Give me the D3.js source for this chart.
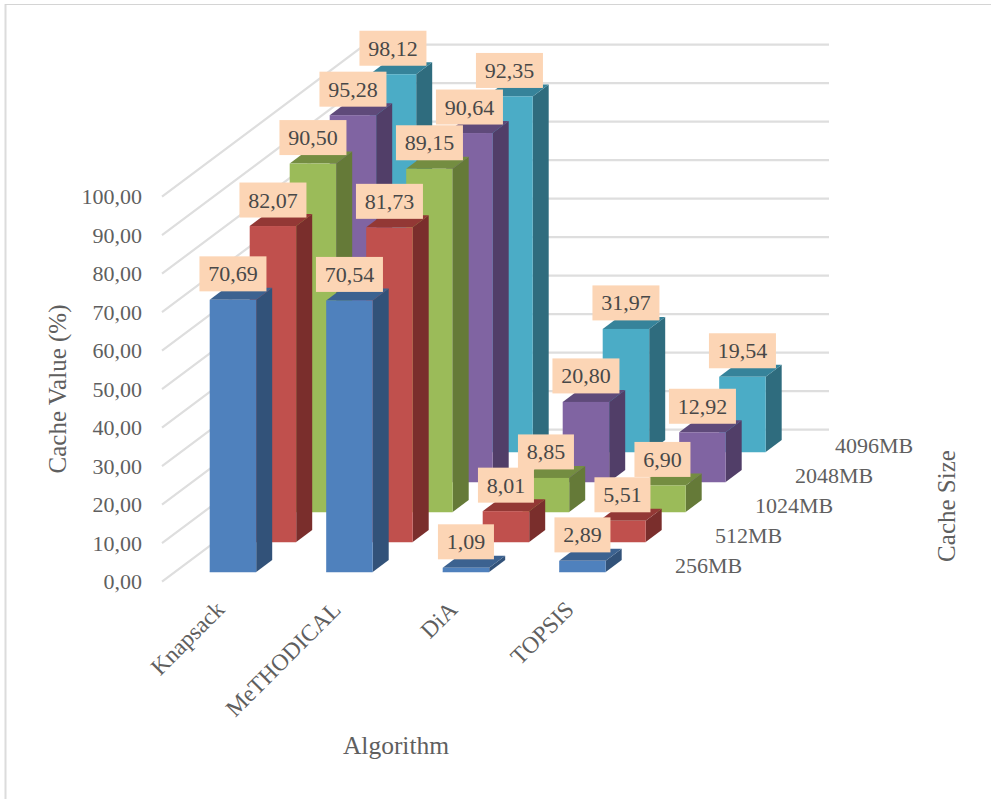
<!DOCTYPE html>
<html>
<head>
<meta charset="utf-8">
<script src="https://cdnjs.cloudflare.com/ajax/libs/d3/7.8.5/d3.min.js"></script>
<style>
  html, body { margin: 0; padding: 0; background: #fff; }
  svg { display: block; }
  text { font-family: "Liberation Serif", serif; }
</style>
</head>
<body>
<svg id="chart" width="991" height="799"></svg>
<script>
// Cache hit values per algorithm and cache size
const algorithms = ["Knapsack", "MeTHODICAL", "DiA", "TOPSIS"];
const cacheSizes = ["256MB", "512MB", "1024MB", "2048MB", "4096MB"];
const values256 = [70.69, 70.54, 1.09, 2.89];
const values512 = [82.07, 81.73, 8.01, 5.51];
const values1024 = [90.50, 89.15, 8.85, 6.90];
const values2048 = [95.28, 90.64, 20.80, 12.92];
const values4096 = [98.12, 92.35, 31.97, 19.54];
const seriesValues = [values256, values512, values1024, values2048, values4096];
const valueTicks = [0, 10, 20, 30, 40, 50, 60, 70, 80, 90, 100];

const frontColors = ["#4F81BD", "#C0504D", "#9BBB59", "#8064A2", "#4BACC6"];
const topColors = ["#3C6290", "#933835", "#748D41", "#5F4A7A", "#36839A"];
const sideColors = ["#325279", "#7A2E2C", "#657A38", "#513E68", "#2F6C7E"];

const svg = d3.select("#chart");
const commaFormat = v => v.toFixed(2).replace(".", ",");

// Oblique projection: column left edge by algorithm, depth shift by cache size
const xCategory = d3.scalePoint().domain(algorithms).range([209.7, 559.2]);
const depthX = d3.scalePoint().domain(cacheSizes).range([0, 160]);
const depthY = d3.scalePoint().domain(cacheSizes).range([0, -120]);
const barHeight = d3.scaleLinear().domain([0, 100]).range([0, 385]);
const yAxisScale = d3.scaleLinear().domain([0, 100]).range([581.7, 196.7]);

const barWidth = 46.5, sideX = 16, sideY = -12, floorY = 572;
const wallX0 = 162, wallX1 = 365, wallShift = -152, wallEnd = 829;

// Outer chart frame
svg.append("line").attr("x1", 5.5).attr("y1", 4).attr("x2", 5.5).attr("y2", 799)
  .attr("stroke", "#dcdcdc").attr("stroke-width", 2);
svg.append("line").attr("x1", 5).attr("y1", 4.5).attr("x2", 991).attr("y2", 4.5)
  .attr("stroke", "#d4d4d4").attr("stroke-width", 1);

// Gridlines run along the side wall, then across the back wall
svg.append("g").selectAll("path").data(valueTicks).join("path")
  .attr("fill", "none").attr("stroke", "#dedede").attr("stroke-width", 2.2)
  .attr("d", v => {
    const y = yAxisScale(v);
    return d3.line()([[wallX0, y], [wallX1, y + wallShift], [wallEnd, y + wallShift]]);
  });

// Columns, farthest cache size first so nearer ones cover them
const barGroup = svg.append("g");
d3.range(cacheSizes.length - 1, -1, -1).forEach(s => {
  const size = cacheSizes[s];
  algorithms.forEach((alg, c) => {
    const v = seriesValues[s][c];
    const x0 = xCategory(alg) + depthX(size);
    const x1 = x0 + barWidth;
    const yb = floorY + depthY(size);
    const yt = yb - barHeight(v);
    const g = barGroup.append("g");
    g.append("path").attr("fill", sideColors[s]).attr("d", d3.line()([
      [x1, yt], [x1 + sideX, yt + sideY], [x1 + sideX, yb + sideY], [x1, yb]
    ]) + "Z");
    g.append("path").attr("fill", topColors[s]).attr("d", d3.line()([
      [x0, yt], [x0 + sideX, yt + sideY], [x1 + sideX, yt + sideY], [x1, yt]
    ]) + "Z");
    g.append("rect").attr("x", x0).attr("y", yt).attr("width", barWidth).attr("height", yb - yt)
      .attr("fill", frontColors[s]);
    g.append("line").attr("x1", x0).attr("x2", x1).attr("y1", yb).attr("y2", yb)
      .attr("stroke", frontColors[s]).attr("stroke-opacity", 0.5).attr("stroke-width", 1);
  });
});

// Value callouts above each column
const labelGroup = svg.append("g");
d3.range(cacheSizes.length - 1, -1, -1).forEach(s => {
  const size = cacheSizes[s];
  algorithms.forEach((alg, c) => {
    const v = seriesValues[s][c];
    const cx = xCategory(alg) + depthX(size) + barWidth / 2;
    const cy = floorY + depthY(size) - barHeight(v) - 26;
    const txt = commaFormat(v);
    const w = txt.length > 4 ? 67 : 56;
    labelGroup.append("rect").attr("x", cx - w / 2).attr("y", cy - 17.5)
      .attr("width", w).attr("height", 35).attr("fill", "#FCD5B5");
    labelGroup.append("text").attr("x", cx).attr("y", cy + 7.5)
      .attr("text-anchor", "middle").attr("font-size", 22).attr("fill", "#484848").text(txt);
  });
});

// Value axis
const yAxis = d3.axisLeft(yAxisScale).tickValues(valueTicks).tickFormat(commaFormat).tickSize(0).tickPadding(0);
const yAxisG = svg.append("g").attr("transform", "translate(142,0)").call(yAxis);
yAxisG.select(".domain").remove();
yAxisG.selectAll("text").attr("font-size", 22).attr("fill", "#5f5f5f")
  .style("font-family", '"Liberation Serif", serif').attr("dy", "0.32em");

// Algorithm labels, slanted
svg.append("g").selectAll("text").data(algorithms).join("text")
  .attr("transform", d => `translate(${xCategory(d) + 16},611) rotate(-45)`)
  .attr("text-anchor", "end").attr("font-size", 23.5).attr("fill", "#5f5f5f").text(d => d);

// Cache size labels stepping back along the floor
svg.append("g").selectAll("text").data(cacheSizes).join("text")
  .attr("x", d => 675 + depthX(d))
  .attr("y", d => 573 + depthY(d))
  .attr("font-size", 22).attr("fill", "#5f5f5f").text(d => d);

// Axis titles
svg.append("text").attr("x", 396).attr("y", 754).attr("text-anchor", "middle")
  .attr("font-size", 25.5).attr("fill", "#5f5f5f").text("Algorithm");
svg.append("text").attr("transform", "translate(66,389) rotate(-90)").attr("text-anchor", "middle")
  .attr("font-size", 25).attr("fill", "#5f5f5f").text("Cache Value (%)");
svg.append("text").attr("transform", "translate(955,506) rotate(-90)").attr("text-anchor", "middle")
  .attr("font-size", 25).attr("fill", "#5f5f5f").text("Cache Size");
</script>
</body>
</html>
